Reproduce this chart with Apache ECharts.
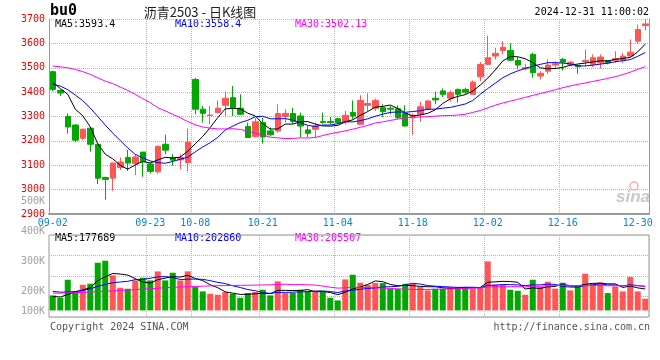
<!DOCTYPE html>
<html>
<head>
<meta charset="utf-8">
<script src="https://cdn.jsdelivr.net/npm/echarts@6/dist/echarts.min.js"></script>
<style>html,body{margin:0;padding:0;background:#fff}#c{width:660px;height:360px}</style>
</head>
<body>
<div id="c"></div>
<script>
// ---- data ----
const dates = ['09-02','09-03','09-04','09-05','09-06','09-09','09-10','09-11','09-12','09-13','09-18','09-19','09-20','09-23','09-24','09-25','09-26','09-27','09-30',
'10-08','10-09','10-10','10-11','10-14','10-15','10-16','10-17','10-18','10-21','10-22','10-23','10-24','10-25','10-28','10-29','10-30','10-31',
'11-01','11-04','11-05','11-06','11-07','11-08','11-11','11-12','11-13','11-14','11-15','11-18','11-19','11-20','11-21','11-22','11-25','11-26','11-27','11-28','11-29',
'12-02','12-03','12-04','12-05','12-06','12-09','12-10','12-11','12-12','12-13','12-16','12-17','12-18','12-19','12-20','12-23','12-24','12-25','12-26','12-27','12-30','12-31'];
const openP  = [3484,3407,3300,3265,3211,3252,3186,3050,3047,3091, 3132,3107,3154,3105,3073,3186,3132,3122,3111,3452,
                3330,3304,3316,3346,3377,3334,3259,3218,3275,3241, 3241,3300,3312,3302,3245,3248,3279,3279,3291,3278,
                3316,3268,3346,3334,3336,3334,3332,3312,3295,3309, 3330,3375,3405,3375,3411,3411,3391,3463,3514,3548,
                3571,3571,3530,3496,3555,3466,3486,3511,3534,3514, 3509,3525,3514,3520,3530,3531,3531,3548,3609,3673];
const closeP = [3411,3396,3257,3203,3248,3186,3047,3042,3109,3113, 3109,3134,3114,3075,3177,3162,3121,3132,3195,3330,
                3313,3306,3334,3375,3336,3309,3214,3278,3216,3225, 3312,3313,3279,3261,3231,3261,3275,3275,3275,3305,
                3302,3366,3353,3366,3320,3330,3295,3261,3305,3340, 3364,3368,3391,3398,3391,3400,3441,3514,3541,3559,
                3584,3531,3511,3500,3480,3477,3511,3516,3523,3523, 3504,3530,3541,3544,3520,3537,3548,3564,3657,3680];
const lowP   = [3404,3384,3230,3195,3203,3155,3023,2959,2995,3080, 3077,3060,3053,3066,3066,3145,3098,3084,3075,3309,
                3275,3268,3312,3302,3302,3306,3211,3214,3189,3220, 3234,3275,3271,3214,3214,3211,3271,3268,3268,3268,
                3289,3266,3323,3323,3298,3309,3289,3259,3225,3279, 3325,3350,3380,3361,3357,3391,3391,3445,3510,3534,
                3555,3527,3493,3489,3459,3452,3475,3493,3489,3507, 3475,3507,3503,3497,3514,3520,3520,3545,3598,3653];
const highP  = [3488,3410,3313,3268,3250,3252,3186,3053,3111,3132, 3162,3145,3154,3111,3182,3225,3145,3145,3250,3459,
                3343,3343,3366,3402,3425,3391,3275,3293,3295,3255, 3350,3330,3336,3316,3261,3275,3316,3298,3293,3323,
                3366,3387,3394,3373,3350,3343,3346,3346,3312,3360, 3366,3402,3415,3407,3415,3418,3448,3523,3632,3582,
                3609,3600,3544,3516,3561,3486,3534,3527,3541,3527, 3514,3575,3555,3555,3531,3568,3561,3616,3677,3698];
const volume = [125600,106000,256700,153500,214800,223200,399000,415700,293000,189700,
                181400,251000,273400,251000,326400,251000,315000,251000,326400,195300,
                159000,139500,131000,153500,139500,106000,145000,153500,173000,125600,
                242700,145000,148000,173000,162000,153500,153500,106000,83700,259500,
                298500,231600,214800,228800,228800,181400,181400,223200,223200,195300,
                167400,181400,181400,195300,195300,195300,181400,195300,410000,214800,
                214800,173000,164600,131000,256700,195300,240000,181400,231600,167400,
                203700,306900,223200,234400,145000,200900,159000,279000,159000,97700];
// moving-average values before enough bars exist
const ma5Lead  = [3441,3415,3391,3330];
const ma10Lead = [3432,3425,3410,3388,3365,3335,3300,3265,3232];
const ma30Lead = [3507,3504,3500,3493,3484,3473,3459,3445,3435,3421,3407,3391,3373,3357,3336,3323,3309,3295,3279,3266,3257,3252,3249,3249,3250,3247,3240,3232,3224];
const vma5Lead  = [117000,112000,134000,153000];
const vma10Lead = [159000,153000,153000,159000,167000,181000,201000,218000,232000];
const vma30Lead = [145000,145000,146000,148000,151000,154000,157000,160000,163000,167000,170000,174000,178000,182000,186000,190000,193000,196000,198000,200000,203000,205000,207000,208000,209000,210000,211000,212000,213000];
const xLabelDates = ['09-02','09-23','10-08','10-21','11-04','11-18','12-02','12-16','12-30'];
const xGridDates  = ['09-23','10-08','10-21','11-04','11-18','12-02','12-16'];
const priceLegend = ['MA5:3593.4','MA10:3558.4','MA30:3502.13'];
const volLegend   = ['MA5:177689','MA10:202860','MA30:205507'];
const titleText = '沥青2503 - 日K线图';
const codeText = 'bu0';
const timeText = '2024-12-31 11:00:02';

// ---- styles ----
const RED = '#ff5555', GREEN = '#00a800';
const MA_COLORS = ['#000000', '#0000ff', '#ff00ff'];
const MONO = '"DejaVu Sans Mono", "Liberation Mono", monospace';
const GRIDC = '#b4b4b4', BORDER = '#999999';

function movingAvg(vals, n, lead) {
  return vals.map((v, i) => {
    if (i < n - 1) return lead[i];
    let s = 0;
    for (let k = i - n + 1; k <= i; k++) s += vals[k];
    return +(s / n).toFixed(2);
  });
}

const candleData = dates.map((d, i) => [openP[i], closeP[i], lowP[i], highP[i]]);
const isUp = i => closeP[i] >= openP[i];
const volData = volume.map((v, i) => ({ value: v, itemStyle: { color: isUp(i) ? RED : GREEN } }));

const ma = [movingAvg(closeP, 5, ma5Lead), movingAvg(closeP, 10, ma10Lead), movingAvg(closeP, 30, ma30Lead)];
const vma = [movingAvg(volume, 5, vma5Lead), movingAvg(volume, 10, vma10Lead), movingAvg(volume, 30, vma30Lead)];

const labelInt = (idx, val) => xLabelDates.indexOf(val) >= 0;
const gridInt = (idx, val) => xGridDates.indexOf(dates[idx]) >= 0;

function lineSeries(name, data, color, xi, yi) {
  return { name, type: 'line', data, xAxisIndex: xi, yAxisIndex: yi, showSymbol: false, symbol: 'none',
    lineStyle: { color, width: 1 }, itemStyle: { color }, z: 5, silent: true };
}

function txt(text, x, y, fill, font, align) {
  return { type: 'text', x, y, silent: true,
    style: { text, fill, font, align: align || 'left', textAlign: align || 'left', verticalAlign: 'middle', textVerticalAlign: 'middle' } };
}

const chart = echarts.init(document.getElementById('c'), null, { renderer: 'canvas' });
const option = {
  animation: false,
  backgroundColor: '#ffffff',
  grid: [
    { left: 49, top: 19, width: 600, height: 195 },
    { left: 49, top: 235, width: 600, height: 82, show: true, borderColor: BORDER, borderWidth: 1 },
    { left: 49, top: 201, width: 600, height: 120 }
  ],
  xAxis: [
    { type: 'category', gridIndex: 0, data: dates, boundaryGap: true,
      axisLine: { show: true, lineStyle: { color: BORDER, width: 2 } }, axisTick: { show: false },
      axisLabel: { interval: labelInt, color: '#0a86cc', fontFamily: MONO, fontSize: 10, margin: 4, hideOverlap: false },
      splitLine: { show: true, interval: gridInt, lineStyle: { color: GRIDC, type: 'dotted' } } },
    { type: 'category', gridIndex: 1, data: dates, boundaryGap: true,
      axisLine: { show: false }, axisTick: { show: false }, axisLabel: { show: false },
      splitLine: { show: true, interval: gridInt, lineStyle: { color: GRIDC, type: 'dotted' } } },
    { type: 'category', gridIndex: 2, data: dates, show: false }
  ],
  yAxis: [
    { type: 'value', gridIndex: 0, min: 2900, max: 3700, interval: 100, position: 'left',
      axisLine: { show: true, lineStyle: { color: BORDER } }, axisTick: { show: false },
      axisLabel: { color: '#ee0000', fontFamily: MONO, fontSize: 10, margin: 4, padding: [0, 0, 4, 0], formatter: v => String(v) },
      splitLine: { show: true, lineStyle: { color: GRIDC, type: 'dotted' } } },
    { type: 'value', gridIndex: 0, min: 2900, max: 3700, position: 'right',
      axisLine: { show: true, lineStyle: { color: BORDER } }, axisTick: { show: false },
      axisLabel: { show: false }, splitLine: { show: false } },
    { type: 'value', gridIndex: 1, min: -55000, max: 631000,
      axisLine: { show: false }, axisTick: { show: false }, axisLabel: { show: false }, splitLine: { show: false } },
    { type: 'value', gridIndex: 1, min: 0, max: 4, interval: 1,
      axisLine: { show: false }, axisTick: { show: false }, axisLabel: { show: false },
      splitLine: { show: true, lineStyle: { color: GRIDC, type: 'dotted' } } },
    { type: 'value', gridIndex: 2, min: 100000, max: 500000, interval: 100000,
      axisLine: { show: false }, axisTick: { show: false }, splitLine: { show: false },
      axisLabel: { color: '#a0a0a0', fontFamily: MONO, fontSize: 10, margin: 4,
        formatter: v => { const s = (v / 1000) + 'K'; return v === 100000 ? '{lift|' + s + '}' : s; },
        rich: { lift: { color: '#a0a0a0', fontFamily: MONO, fontSize: 10, padding: [0, 0, 20, 0] } } } }
  ],
  series: [
    { type: 'candlestick', xAxisIndex: 0, yAxisIndex: 0, data: candleData, barWidth: 6, silent: true,
      itemStyle: { color: RED, color0: GREEN, borderColor: RED, borderColor0: GREEN, borderWidth: 1 } },
    lineSeries('MA5', ma[0], MA_COLORS[0], 0, 0),
    lineSeries('MA10', ma[1], MA_COLORS[1], 0, 0),
    lineSeries('MA30', ma[2], MA_COLORS[2], 0, 0),
    { type: 'bar', xAxisIndex: 1, yAxisIndex: 2, data: volData, barWidth: 6, silent: true },
    lineSeries('VMA5', vma[0], MA_COLORS[0], 1, 2),
    lineSeries('VMA10', vma[1], MA_COLORS[1], 1, 2),
    lineSeries('VMA30', vma[2], MA_COLORS[2], 1, 2)
  ],
  graphic: [
    txt(codeText, 50, 11, '#000', 'bold 15px ' + MONO),
    txt(titleText, 200, 12, '#222', '13px "Noto Sans CJK SC", sans-serif', 'center'),
    txt(timeText, 649, 12, '#000', '10px ' + MONO, 'right'),
    txt(priceLegend[0], 55, 24, MA_COLORS[0], '10px ' + MONO),
    txt(priceLegend[1], 175, 24, MA_COLORS[1], '10px ' + MONO),
    txt(priceLegend[2], 295, 24, MA_COLORS[2], '10px ' + MONO),
    txt(volLegend[0], 55, 238, MA_COLORS[0], '10px ' + MONO),
    txt(volLegend[1], 175, 238, MA_COLORS[1], '10px ' + MONO),
    txt(volLegend[2], 295, 238, MA_COLORS[2], '10px ' + MONO),
    txt('Copyright 2024 SINA.COM', 50, 327, '#555', '10px ' + MONO),
    txt('http://finance.sina.com.cn', 650, 327, '#555', '10px ' + MONO, 'right'),
    txt('sina', 650, 197, '#c8c8c8', 'italic bold 17px "Liberation Sans", Arial, sans-serif', 'right'),
    { type: 'circle', shape: { cx: 634, cy: 186, r: 4 }, silent: true, style: { fill: 'none', stroke: '#f2b0b0', lineWidth: 1.5 } }
  ]
};
chart.setOption(option);
</script>
</body>
</html>
